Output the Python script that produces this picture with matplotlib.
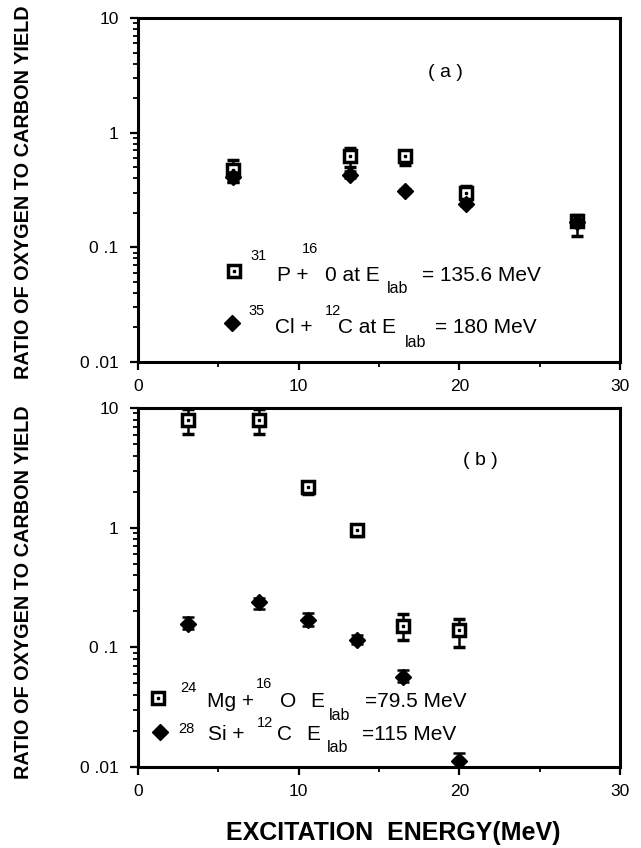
import matplotlib
matplotlib.use("Agg")
import matplotlib.pyplot as plt
from matplotlib.ticker import LogLocator, NullFormatter

plt.rcParams["font.family"] = ["Liberation Sans", "DejaVu Sans"]

# panel (a): 31P + 16O (squares) and 35Cl + 12C (diamonds)
a_x = [5.9, 13.2, 16.6, 20.4, 27.3]
p31_y = [0.47, 0.62, 0.62, 0.30, 0.17]
p31_lo = [0.37, 0.50, 0.52, 0.26, 0.125]
p31_hi = [0.58, 0.74, 0.69, 0.34, 0.19]
cl35_y = [0.41, 0.43, 0.31, 0.24, 0.165]
cl35_lo = [0.37, 0.40, 0.30, 0.23, 0.155]
cl35_hi = [0.45, 0.46, 0.32, 0.25, 0.175]

# panel (b): 24Mg + 16O (squares) and 28Si + 12C (diamonds)
b_x = [3.1, 7.5, 10.6, 13.6, 16.5, 20.0]
mg24_y = [7.9, 7.9, 2.17, 0.95, 0.15, 0.139]
mg24_lo = [6.1, 6.1, 1.9, 0.85, 0.115, 0.10]
mg24_hi = [9.8, 9.8, 2.4, 1.05, 0.19, 0.174]
si28_y = [0.158, 0.237, 0.17, 0.115, 0.057, 0.0113]
si28_lo = [0.141, 0.211, 0.15, 0.106, 0.051, 0.0100]
si28_hi = [0.179, 0.26, 0.194, 0.128, 0.065, 0.0131]

y_ticks = [0.01, 0.1, 1, 10]
y_ticklabels = ["0 .01", "0 .1", "1", "10"]
x_ticks = [0, 10, 20, 30]
x_minor = [5, 15, 25]

W, H = 641, 848
SQ_MS, SQ_MEW, DI_MS = 8.5, 2.5, 8


def px(x, y):
    return x / W, 1 - y / H


def errs(y, lo, hi):
    return [[v - l for v, l in zip(y, lo)], [h - v for v, h in zip(y, hi)]]


def squares(ax, x, y, lo, hi, z=3):
    ax.errorbar(x, y, yerr=errs(y, lo, hi), fmt="s", ms=SQ_MS, mfc="white", mec="black",
                mew=SQ_MEW, ecolor="black", elinewidth=1.8, capsize=4.5, capthick=1.8, zorder=z)
    ax.plot(x, y, "s", ms=2, color="black", zorder=z + 0.1)


def diamonds(ax, x, y, lo, hi, z=2):
    ax.errorbar(x, y, yerr=errs(y, lo, hi), fmt="D", ms=DI_MS, color="black",
                ecolor="black", elinewidth=1.8, capsize=4.5, capthick=1.8, zorder=z)


def style(ax):
    ax.set_yscale("log")
    ax.set_ylim(0.01, 10)
    ax.set_xlim(0, 30)
    ax.set_yticks(y_ticks)
    ax.set_yticklabels(y_ticklabels)
    ax.yaxis.set_minor_locator(LogLocator(base=10, subs=range(2, 10)))
    ax.yaxis.set_minor_formatter(NullFormatter())
    ax.set_xticks(x_ticks)
    ax.set_xticks(x_minor, minor=True)
    for s in ax.spines.values():
        s.set_linewidth(2.2)
    ax.tick_params(which="major", direction="out", length=6, width=1.6, labelsize=12.5, pad=6)
    ax.tick_params(which="minor", direction="out", length=3.5, width=1.3)
    ax.tick_params(axis="y", which="major", pad=8)


fig = plt.figure(figsize=(W / 100, H / 100), dpi=100)
ax_a = fig.add_axes([138 / W, 1 - 362 / H, 482 / W, 344 / H])
ax_b = fig.add_axes([138 / W, 1 - 767 / H, 482 / W, 359 / H])

squares(ax_a, a_x, p31_y, p31_lo, p31_hi, z=2)
diamonds(ax_a, a_x, cl35_y, cl35_lo, cl35_hi, z=3)
style(ax_a)

diamonds(ax_b, b_x, si28_y, si28_lo, si28_hi)
squares(ax_b, b_x, mg24_y, mg24_lo, mg24_hi)
style(ax_b)

ax_a.text(0.637, 0.843, "( a )", transform=ax_a.transAxes, ha="center", va="center", fontsize=14)
ax_b.text(0.71, 0.855, "( b )", transform=ax_b.transAxes, ha="center", va="center", fontsize=14)

# legend keys
for fx, fy in [px(234, 271), px(158, 698)]:
    fig.lines.append(plt.Line2D([fx], [fy], marker="s", ms=SQ_MS, mfc="white", mec="black",
                                mew=SQ_MEW, transform=fig.transFigure))
    fig.lines.append(plt.Line2D([fx], [fy], marker="s", ms=2, color="black",
                                transform=fig.transFigure))
for fx, fy in [px(232, 323), px(160, 732)]:
    fig.lines.append(plt.Line2D([fx], [fy], marker="D", ms=DI_MS, color="black",
                                transform=fig.transFigure))

big, sup, sub = 15, 10.5, 11.5
legend_text = [
    # panel (a), line 1
    (250, 260, "31", sup), (277, 281, "P + ", big), (302, 253, "16", sup),
    (325, 281, "0 at E", big), (387, 293, "lab", sub), (422, 281, "= 135.6 MeV", big),
    # panel (a), line 2
    (248, 315, "35", sup), (275, 333, "Cl + ", big), (325, 315, "12", sup),
    (338, 333, "C at E", big), (405, 347, "lab", sub), (435, 333, "= 180 MeV", big),
    # panel (b), line 1
    (180, 692, "24", sup), (207, 707, "Mg + ", big), (256, 688, "16", sup),
    (280, 707, "O", big), (310, 707, "E", big), (329, 720, "lab", sub), (365, 707, "=79.5 MeV", big),
    # panel (b), line 2
    (178, 733, "28", sup), (208, 740, "Si + ", big), (257, 727, "12", sup),
    (277, 740, "C", big), (306, 740, "E", big), (327, 752, "lab", sub), (362, 740, "=115 MeV", big),
]
for x, y, s, size in legend_text:
    fx, fy = px(x, y)
    fig.text(fx, fy, s, fontsize=size, ha="left", va="baseline")

for cy in [192, 592]:
    fx, fy = px(24, cy)
    fig.text(fx, fy, "RATIO OF OXYGEN TO CARBON YIELD", rotation=90, ha="center", va="center",
             fontsize=14.3, fontweight="bold")

fx, fy = px(393, 833)
fig.text(fx, fy, "EXCITATION  ENERGY(MeV)", ha="center", va="center", fontsize=18, fontweight="bold")

fig.savefig("out.png", dpi=100)
